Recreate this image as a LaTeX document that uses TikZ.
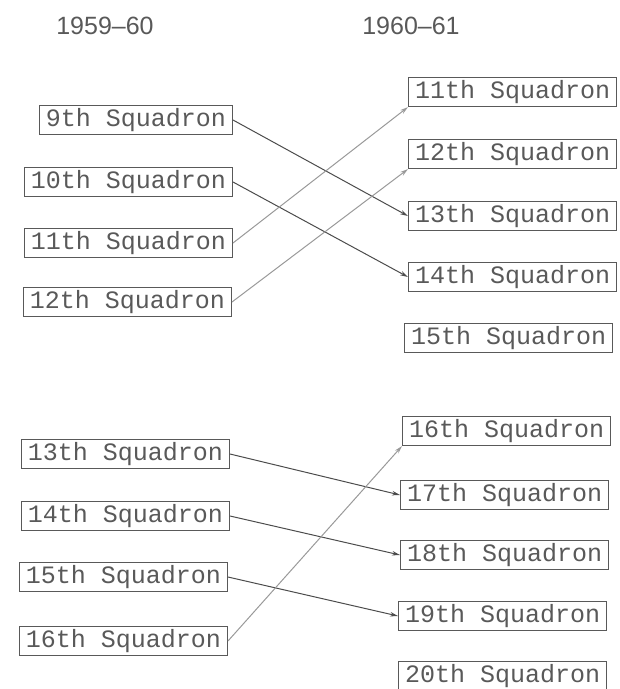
\documentclass[tikz,border=0pt]{standalone}
\usepackage{fontspec}
\setmainfont{Liberation Sans}
\setsansfont{Liberation Sans}
\setmonofont{Liberation Mono}
\usetikzlibrary{arrows.meta}
\definecolor{ink}{gray}{0.35}
\definecolor{lineink}{gray}{0.3}
\definecolor{lightink}{gray}{0.6}
\begin{document}
\begin{tikzpicture}[x=1pt,y=-1pt,
  sq/.style={draw=ink,line width=1.1pt,text=ink,font=\fontsize{25}{25}\ttfamily,
    inner xsep=6.5pt,inner ysep=0pt,minimum height=29pt},
  lsq/.style={sq,anchor=east},
  rsq/.style={sq,anchor=west},
  hdr/.style={text=ink,font=\fontsize{25}{25}\sffamily},
  conn/.style={draw=lineink,line width=1pt,-{Stealth[length=8pt,width=4.5pt]}},
  lconn/.style={conn,draw=lightink}]
\useasboundingbox (0,0) rectangle (620,689);
\node[hdr] (h1) at (105,26) {1959--60};
\node[hdr] (h2) at (411,26) {1960--61};
% left column
\node[lsq] (l9)  at (233,120) {9th Squadron};
\node[lsq] (l10) at (233,182) {10th Squadron};
\node[lsq] (l11) at (233,243) {11th Squadron};
\node[lsq] (l12) at (232,302) {12th Squadron};
\node[lsq] (l13) at (230,454) {13th Squadron};
\node[lsq] (l14) at (230,516) {14th Squadron};
\node[lsq] (l15) at (228,577) {15th Squadron};
\node[lsq] (l16) at (228,641) {16th Squadron};
% right column
\node[rsq] (r11) at (408,92)  {11th Squadron};
\node[rsq] (r12) at (408,154) {12th Squadron};
\node[rsq] (r13) at (408,216) {13th Squadron};
\node[rsq] (r14) at (408,277) {14th Squadron};
\node[rsq] (r15) at (404,338) {15th Squadron};
\node[rsq] (r16) at (402,431) {16th Squadron};
\node[rsq] (r17) at (400,495) {17th Squadron};
\node[rsq] (r18) at (400,555) {18th Squadron};
\node[rsq] (r19) at (398,616) {19th Squadron};
\node[rsq] (r20) at (398,676) {20th Squadron};
% connectors
\draw[conn]  (l9.east)  -- (r13.west);
\draw[conn]  (l10.east) -- (r14.west);
\draw[lconn] (l11.east) -- (r11.south west);
\draw[lconn] (l12.east) -- (r12.south west);
\draw[conn]  (l13.east) -- (r17.west);
\draw[conn]  (l14.east) -- (r18.west);
\draw[conn]  (l15.east) -- (r19.west);
\draw[lconn] (l16.east) -- (r16.south west);
\end{tikzpicture}
\end{document}
